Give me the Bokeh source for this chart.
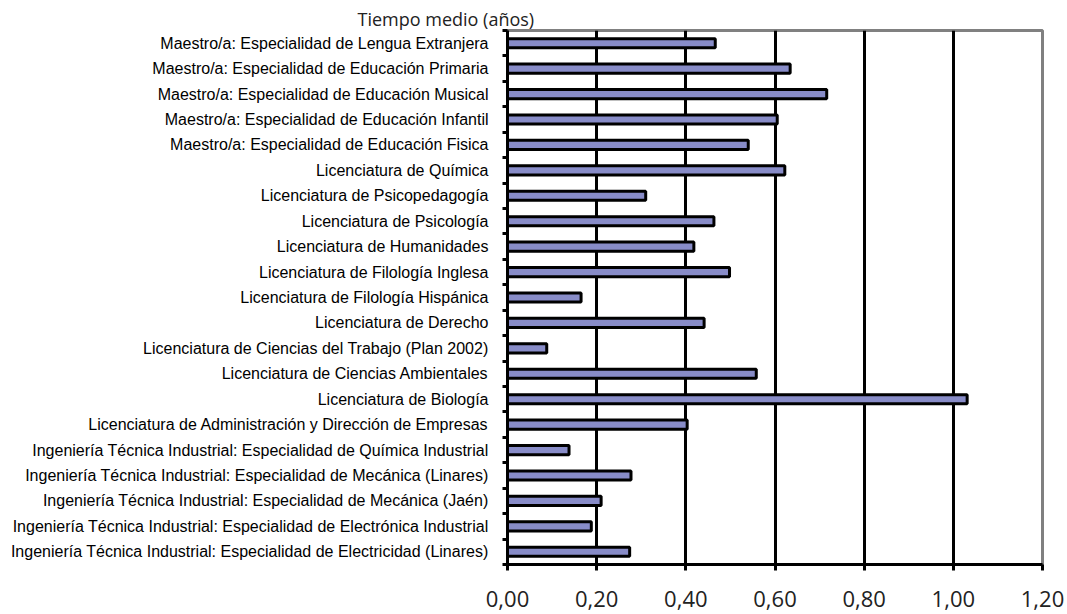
from bokeh.plotting import figure
from bokeh.models import FixedTicker, Range1d, Title
from bokeh.embed import file_html
from bokeh.resources import INLINE

# ---- data (top to bottom as in the chart) ----
titulaciones = [
    "Maestro/a: Especialidad de Lengua Extranjera",
    "Maestro/a: Especialidad de Educación Primaria",
    "Maestro/a: Especialidad de Educación Musical",
    "Maestro/a: Especialidad de Educación Infantil",
    "Maestro/a: Especialidad de Educación Fisica",
    "Licenciatura de Química",
    "Licenciatura de Psicopedagogía",
    "Licenciatura de Psicología",
    "Licenciatura de Humanidades",
    "Licenciatura de Filología Inglesa",
    "Licenciatura de Filología Hispánica",
    "Licenciatura de Derecho",
    "Licenciatura de Ciencias del Trabajo (Plan 2002)",
    "Licenciatura de Ciencias Ambientales",
    "Licenciatura de Biología",
    "Licenciatura de Administración y Dirección de Empresas",
    "Ingeniería Técnica Industrial: Especialidad de Química Industrial",
    "Ingeniería Técnica Industrial: Especialidad de Mecánica (Linares)",
    "Ingeniería Técnica Industrial: Especialidad de Mecánica (Jaén)",
    "Ingeniería Técnica Industrial: Especialidad de Electrónica Industrial",
    "Ingeniería Técnica Industrial: Especialidad de Electricidad (Linares)",
]
tiempo_medio = [0.466, 0.634, 0.716, 0.605, 0.540, 0.622, 0.310, 0.463, 0.418,
                0.498, 0.165, 0.441, 0.088, 0.558, 1.031, 0.403, 0.138, 0.277,
                0.210, 0.188, 0.274]
x_ticks = [0.0, 0.2, 0.4, 0.6, 0.8, 1.0, 1.2]
x_tick_labels = ["0,00", "0,20", "0,40", "0,60", "0,80", "1,00", "1,20"]
titulo = "Tiempo medio (años)"

n = len(titulaciones)
y_pos = [n - i - 0.5 for i in range(n)]

p = figure(width=1067, height=614, output_backend="svg", toolbar_location=None,
           x_range=Range1d(0, 1.2), y_range=Range1d(0, n),
           min_border_left=507, min_border_right=25, min_border_top=30,
           min_border_bottom=50)

p.hbar(y=y_pos, right=tiempo_medio, left=0, height=0.36,
       fill_color="#888CC8", line_color="black", line_width=3)

# frame
p.outline_line_color = "#808080"
p.outline_line_width = 3
p.background_fill_color = "white"
p.border_fill_color = "white"

# grid
p.ygrid.visible = False
p.xgrid.ticker = FixedTicker(ticks=x_ticks[1:-1])
p.xgrid.grid_line_color = "black"
p.xgrid.grid_line_width = 3

# x axis
xa = p.xaxis[0]
xa.ticker = FixedTicker(ticks=x_ticks)
xa.major_label_overrides = {t: l for t, l in zip(x_ticks, x_tick_labels)}
xa.axis_line_color = "black"
xa.axis_line_width = 3
xa.major_tick_line_color = "black"
xa.major_tick_line_width = 3
xa.major_tick_out = 6
xa.major_tick_in = 0
xa.minor_tick_line_color = None
xa.major_label_standoff = 20
xa.major_label_text_font = "Open Sans"
xa.major_label_text_font_size = "22px"
xa.major_label_text_color = "#222222"

# y axis
ya = p.yaxis[0]
ya.ticker = FixedTicker(ticks=y_pos, minor_ticks=list(range(n + 1)))
ya.major_label_overrides = {y: t for y, t in zip(y_pos, titulaciones)}
ya.axis_line_color = "black"
ya.axis_line_width = 3
ya.major_tick_line_color = None
ya.major_tick_out = 0
ya.major_tick_in = 0
ya.minor_tick_line_color = "black"
ya.minor_tick_line_width = 3
ya.minor_tick_out = 5
ya.minor_tick_in = 0
ya.major_label_standoff = 14
ya.major_label_text_font = "Arial"
ya.major_label_text_font_size = "16px"
ya.major_label_text_color = "black"

p.title = Title(text=titulo, align="left", offset=-150, standoff=0,
                text_font="Open Sans", text_font_size="18px",
                text_font_style="normal", text_color="#222222")

open("out.html", "w").write(file_html(p, INLINE))
